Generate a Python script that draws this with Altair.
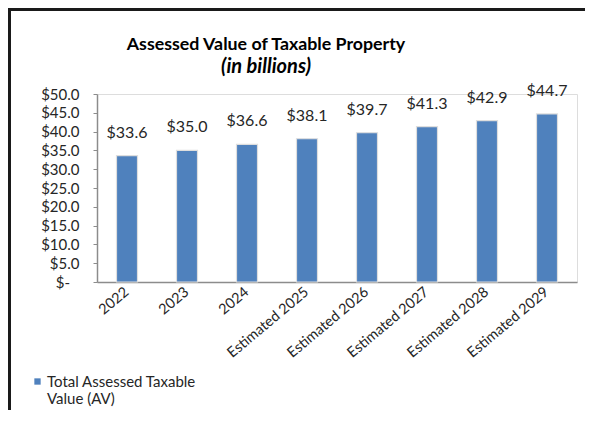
import altair as alt
import pandas as pd

categories = ["2022", "2023", "2024", "Estimated 2025", "Estimated 2026",
              "Estimated 2027", "Estimated 2028", "Estimated 2029"]
values = [33.6, 35.0, 36.6, 38.1, 39.7, 41.3, 42.9, 44.7]
series_name = "Total Assessed Taxable Value (AV)"
y_ticks = [0, 5, 10, 15, 20, 25, 30, 35, 40, 45, 50]

FONT = "Lato"
BLUE = "#4F81BD"
TXT = "#262626"

df = pd.DataFrame({"year": categories, "value": values, "series": series_name})

x_axis = alt.Axis(labelAngle=-40, labelAlign="right", labelBaseline="middle",
                  labelPadding=8, ticks=False, domainColor="#8c8c8c",
                  domainWidth=1.5, labelFontSize=14.5, labelColor=TXT,
                  labelFont=FONT)
y_axis = alt.Axis(values=y_ticks, tickCount=11, grid=False, domainColor="#8c8c8c",
                  domainWidth=1.5, tickColor="#8c8c8c", tickSize=4,
                  labelOverlap=False, labelBound=False, labelFlush=False,
                  labelPadding=14, labelFontSize=15, labelColor=TXT,
                  labelFont=FONT,
                  labelExpr="datum.value == 0 ? '$-\u2002\u2009\u200b' : '$' + format(datum.value, '.1f')")
x_enc = alt.X("year:N", sort=categories, title=None,
              scale=alt.Scale(paddingInner=0.65), axis=x_axis)
y_enc = alt.Y("value:Q", title=None,
              scale=alt.Scale(domain=[0, 50], nice=False), axis=y_axis)

base = alt.Chart(df)

bars = base.mark_bar(stroke="#dedede", strokeWidth=1.2).encode(
    x=x_enc, y=y_enc,
    color=alt.Color("series:N", title=None,
                    scale=alt.Scale(range=[BLUE]),
                    legend=alt.Legend(orient="none", legendX=-67, legendY=280,
                                      symbolType="square", symbolSize=40,
                                      symbolStrokeWidth=0, labelFontSize=15,
                                      labelColor=TXT, labelFont=FONT,
                                      labelBaseline="middle", labelLimit=300,
                                      labelExpr="['Total Assessed Taxable', 'Value (AV)']",
                                      labelOffset=2)),
)

labels = base.mark_text(dy=-23, fontSize=16, font=FONT, color=TXT).encode(
    x=x_enc, y=y_enc,
    text=alt.Text("value:Q", format="$.1f"),
)

frame = alt.Chart(alt.Data(values=[{"k": 1}]))
top_line = frame.mark_rule(color="#1a1a1a", strokeWidth=3).encode(
    x=alt.value(-89), x2=alt.value(490), y=alt.value(-84.5))
left_line = frame.mark_rule(color="#1a1a1a", strokeWidth=3).encode(
    x=alt.value(-87.5), y=alt.value(-86), y2=alt.value(330))

chart = alt.layer(bars, labels, top_line, left_line).properties(
    width=480, height=188,
    title=alt.TitleParams(
        text="Assessed Value of Taxable Property",
        subtitle="(in billions)",
        anchor="middle", frame="group", dx=-71, offset=-70,
        font=FONT, fontSize=17.8, fontWeight="bold", color="#000000",
        subtitleFont=FONT, subtitleFontSize=20, subtitleFontWeight="bold",
        subtitleFontStyle="italic", subtitleColor="#000000", subtitlePadding=3,
    ),
    autosize=alt.AutoSizeParams(type="none"),
    padding={"left": 89, "top": 86, "right": 8, "bottom": 128},
).configure_view(stroke=None).configure(background="white")

chart.save("out.html", embed_options={"renderer": "svg", "actions": False})
